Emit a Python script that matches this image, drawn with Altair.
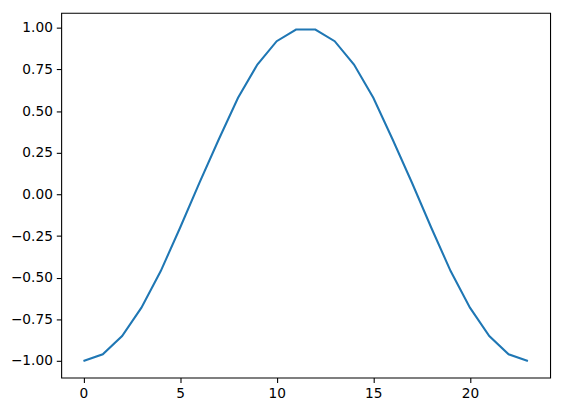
import pandas as pd
import altair as alt

# sample index and curve values
x_vals = list(range(24))
y_vals = [
    -1.00, -0.96, -0.85, -0.68, -0.46, -0.20, 0.07, 0.33, 0.58, 0.78, 0.92, 0.99,
    0.99, 0.92, 0.78, 0.58, 0.33, 0.07, -0.20, -0.46, -0.68, -0.85, -0.96, -1.00,
]
x_ticks = [0, 5, 10, 15, 20]
y_ticks = [-1.0, -0.75, -0.5, -0.25, 0.0, 0.25, 0.5, 0.75, 1.0]

df = pd.DataFrame({"x": x_vals, "y": y_vals})

font = "DejaVu Sans"
label_size = 13.9

x_axis = alt.Axis(
    values=x_ticks,
    format="d",
    title=None,
    grid=False,
    domain=False,
    tickColor="black",
    tickWidth=1.1,
    tickSize=5,
    labelPadding=4,
    labelFont=font,
    labelFontSize=label_size,
    labelColor="black",
    labelFlush=False,
)
y_axis = alt.Axis(
    values=y_ticks,
    format=".2f",
    title=None,
    grid=False,
    domain=False,
    tickColor="black",
    tickWidth=1.1,
    tickSize=5,
    labelPadding=4,
    labelFont=font,
    labelFontSize=label_size,
    labelColor="black",
    labelFlush=False,
)

chart = (
    alt.Chart(df)
    .mark_line(color="#1f77b4", strokeWidth=2.1, clip=True)
    .encode(
        x=alt.X("x:Q", axis=x_axis, scale=alt.Scale(domain=[-1.15, 24.15], nice=False, zero=False)),
        y=alt.Y("y:Q", axis=y_axis, scale=alt.Scale(domain=[-1.0995, 1.0902], nice=False, zero=False)),
    )
    .properties(
        width=496,
        height=370,
        autosize=alt.AutoSizeParams(type="none"),
        padding={"left": 54, "top": 2, "right": 10, "bottom": 33},
        background="white",
    )
    .configure_view(stroke="black", strokeWidth=1.1)
)

chart.save("out.html", embed_options={"renderer": "svg", "actions": False})
